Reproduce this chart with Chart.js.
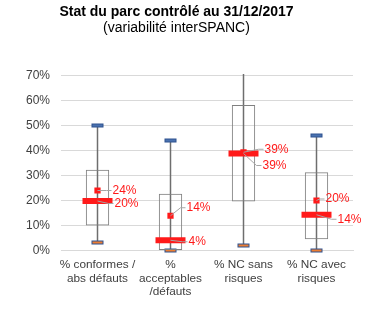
<!DOCTYPE html>
<html>
<head>
<meta charset="utf-8">
<script src="https://cdn.jsdelivr.net/npm/chart.js@4.4.1/dist/chart.umd.min.js"></script>
<style>
    html, body { margin: 0; padding: 0; background: #ffffff; }
    #wrap { width: 374px; height: 331px; }
</style>
</head>
<body>
<div id="wrap"><canvas id="myChart" width="374" height="331"></canvas></div>
<script>
const categories = [['% conformes /', 'abs défauts'], ['%', 'acceptables', '/défauts'], ['% NC sans', 'risques'], ['% NC avec', 'risques']];
const minValues = [0.032, 0.0, 0.02, 0.0];
const q1Values = [0.10, 0.0, 0.196, 0.045];
const medianValues = [0.198, 0.041, 0.388, 0.143];
const q3Values = [0.323, 0.227, 0.582, 0.313];
const maxValues = [0.50, 0.44, 0.71, 0.46];
const meanValues = [0.24, 0.139, 0.393, 0.20];

// label offsets in px from the marker centre: [dx, dy]
const meanLabelPos = [[15, 0], [16, -8], [21, -3], [9, -1.5]];
const medianLabelPos = [[17, 2.5], [18, 1.5], [19, 12], [21, 4.5]];

const RED = '#ff1a1a';
const FONT = 'Liberation Sans, Arial, sans-serif';

function pct(v) {
    return Math.round(v * 100) + '%';
}

/*Whiskers and caps*/

const whiskerPlugin = {
    id: 'whiskers',
    beforeDatasetsDraw(chart) {
        const ctx = chart.ctx;
        const x = chart.scales.x;
        const y = chart.scales.y;
        ctx.save();
        for (let i = 0; i < categories.length; i++) {
            const cx = x.getPixelForValue(i);
            const top = Math.max(y.getPixelForValue(maxValues[i]), chart.chartArea.top - 1.5);
            const bottom = y.getPixelForValue(minValues[i]);
            ctx.strokeStyle = '#6e6e6e';
            ctx.lineWidth = 1.5;
            ctx.beginPath();
            ctx.moveTo(cx, top);
            ctx.lineTo(cx, bottom);
            ctx.stroke();
            if (maxValues[i] <= y.max) {
                drawCap(ctx, cx, top, '#4a72b0');
            }
            drawCap(ctx, cx, bottom, '#ed7d31');
        }
        ctx.restore();
    }
};


function drawCap(ctx, cx, cy, color) {
    ctx.fillStyle = color;
    ctx.strokeStyle = '#2f528f';
    ctx.lineWidth = 1;
    ctx.fillRect(cx - 5.5, cy - 1.5, 11, 3);
    ctx.strokeRect(cx - 5.5, cy - 1.5, 11, 3);
}

/*Value labels*/

const labelPlugin = {
    id: 'valueLabels',
    afterDatasetsDraw(chart) {
        const ctx = chart.ctx;
        const x = chart.scales.x;
        const y = chart.scales.y;
        ctx.save();
        ctx.font = '12px ' + FONT;
        ctx.textBaseline = 'middle';
        ctx.textAlign = 'left';
        for (let i = 0; i < categories.length; i++) {
            const cx = x.getPixelForValue(i);
            drawLabel(ctx, cx, y.getPixelForValue(meanValues[i]), meanLabelPos[i], pct(meanValues[i]));
            drawLabel(ctx, cx, y.getPixelForValue(medianValues[i]), medianLabelPos[i], pct(medianValues[i]));
        }
        ctx.restore();
    }
};


function drawLabel(ctx, px, py, offset, text) {
    const lx = px + offset[0];
    const ly = py + offset[1];
    ctx.strokeStyle = '#a6a6a6';
    ctx.lineWidth = 1;
    ctx.beginPath();
    ctx.moveTo(px, py);
    ctx.lineTo(lx - 6, ly);
    ctx.lineTo(lx - 1, ly);
    ctx.stroke();
    ctx.fillStyle = RED;
    ctx.fillText(text, lx, ly);
}

/*Title*/

const titlePlugin = {
    id: 'titles',
    afterDraw(chart) {
        const ctx = chart.ctx;
        ctx.save();
        ctx.fillStyle = '#000000';
        ctx.textAlign = 'center';
        ctx.textBaseline = 'middle';
        ctx.font = 'bold 14px ' + FONT;
        ctx.fillText('Stat du parc contrôlé au 31/12/2017', 176.5, 12);
        ctx.font = '14px ' + FONT;
        ctx.fillText('(variabilité interSPANC)', 176.5, 28);
        ctx.restore();
    }
};

/*Chart*/

function boxRanges() {
    return q1Values.map((q1, i) => [q1, q3Values[i]]);
}


function setChart() {
    const ctx = document.getElementById('myChart');
    new Chart(ctx, {
        type: 'bar',
        data: {
            labels: categories,
            datasets: [
                {
                    type: 'line',
                    data: meanValues,
                    showLine: false,
                    pointStyle: 'rect',
                    pointRadius: 4.4,
                    pointBackgroundColor: RED,
                    pointBorderWidth: 0,
                    order: 1
                },
                {
                    type: 'line',
                    data: medianValues,
                    showLine: false,
                    pointStyle: 'line',
                    pointRadius: 15,
                    pointBorderColor: RED,
                    pointBorderWidth: 6,
                    order: 2
                },
                {
                    type: 'bar',
                    data: boxRanges(),
                    backgroundColor: 'rgba(0,0,0,0)',
                    borderColor: '#808080',
                    borderWidth: 1,
                    borderSkipped: false,
                    barPercentage: 0.32,
                    categoryPercentage: 1,
                    order: 3
                }
            ]
        },
        options: {
            responsive: false,
            animation: false,
            events: [],
            layout: { padding: { top: 75.5, right: 12, left: 0, bottom: 0 } },
            plugins: {
                legend: { display: false },
                tooltip: { enabled: false }
            },
            scales: {
                x: {
                    grid: { display: false, drawTicks: false },
                    border: { display: true, color: '#d9d9d9' },
                    ticks: {
                        color: '#404040',
                        font: { family: FONT, size: 11.8, lineHeight: 1.12 },
                        padding: 8,
                        maxRotation: 0,
                        autoSkip: false
                    },
                    afterFit(scale) { scale.height = 80.5; }
                },
                y: {
                    min: 0,
                    max: 0.7,
                    grid: { color: '#d9d9d9', drawTicks: false },
                    border: { display: false },
                    ticks: {
                        stepSize: 0.1,
                        color: '#404040',
                        font: { family: FONT, size: 12 },
                        padding: 11,
                        callback: (v) => pct(v)
                    },
                    afterFit(scale) { scale.width = 61; }
                }
            }
        },
        plugins: [whiskerPlugin, labelPlugin, titlePlugin]
    });
}

setChart();
</script>
</body>
</html>
